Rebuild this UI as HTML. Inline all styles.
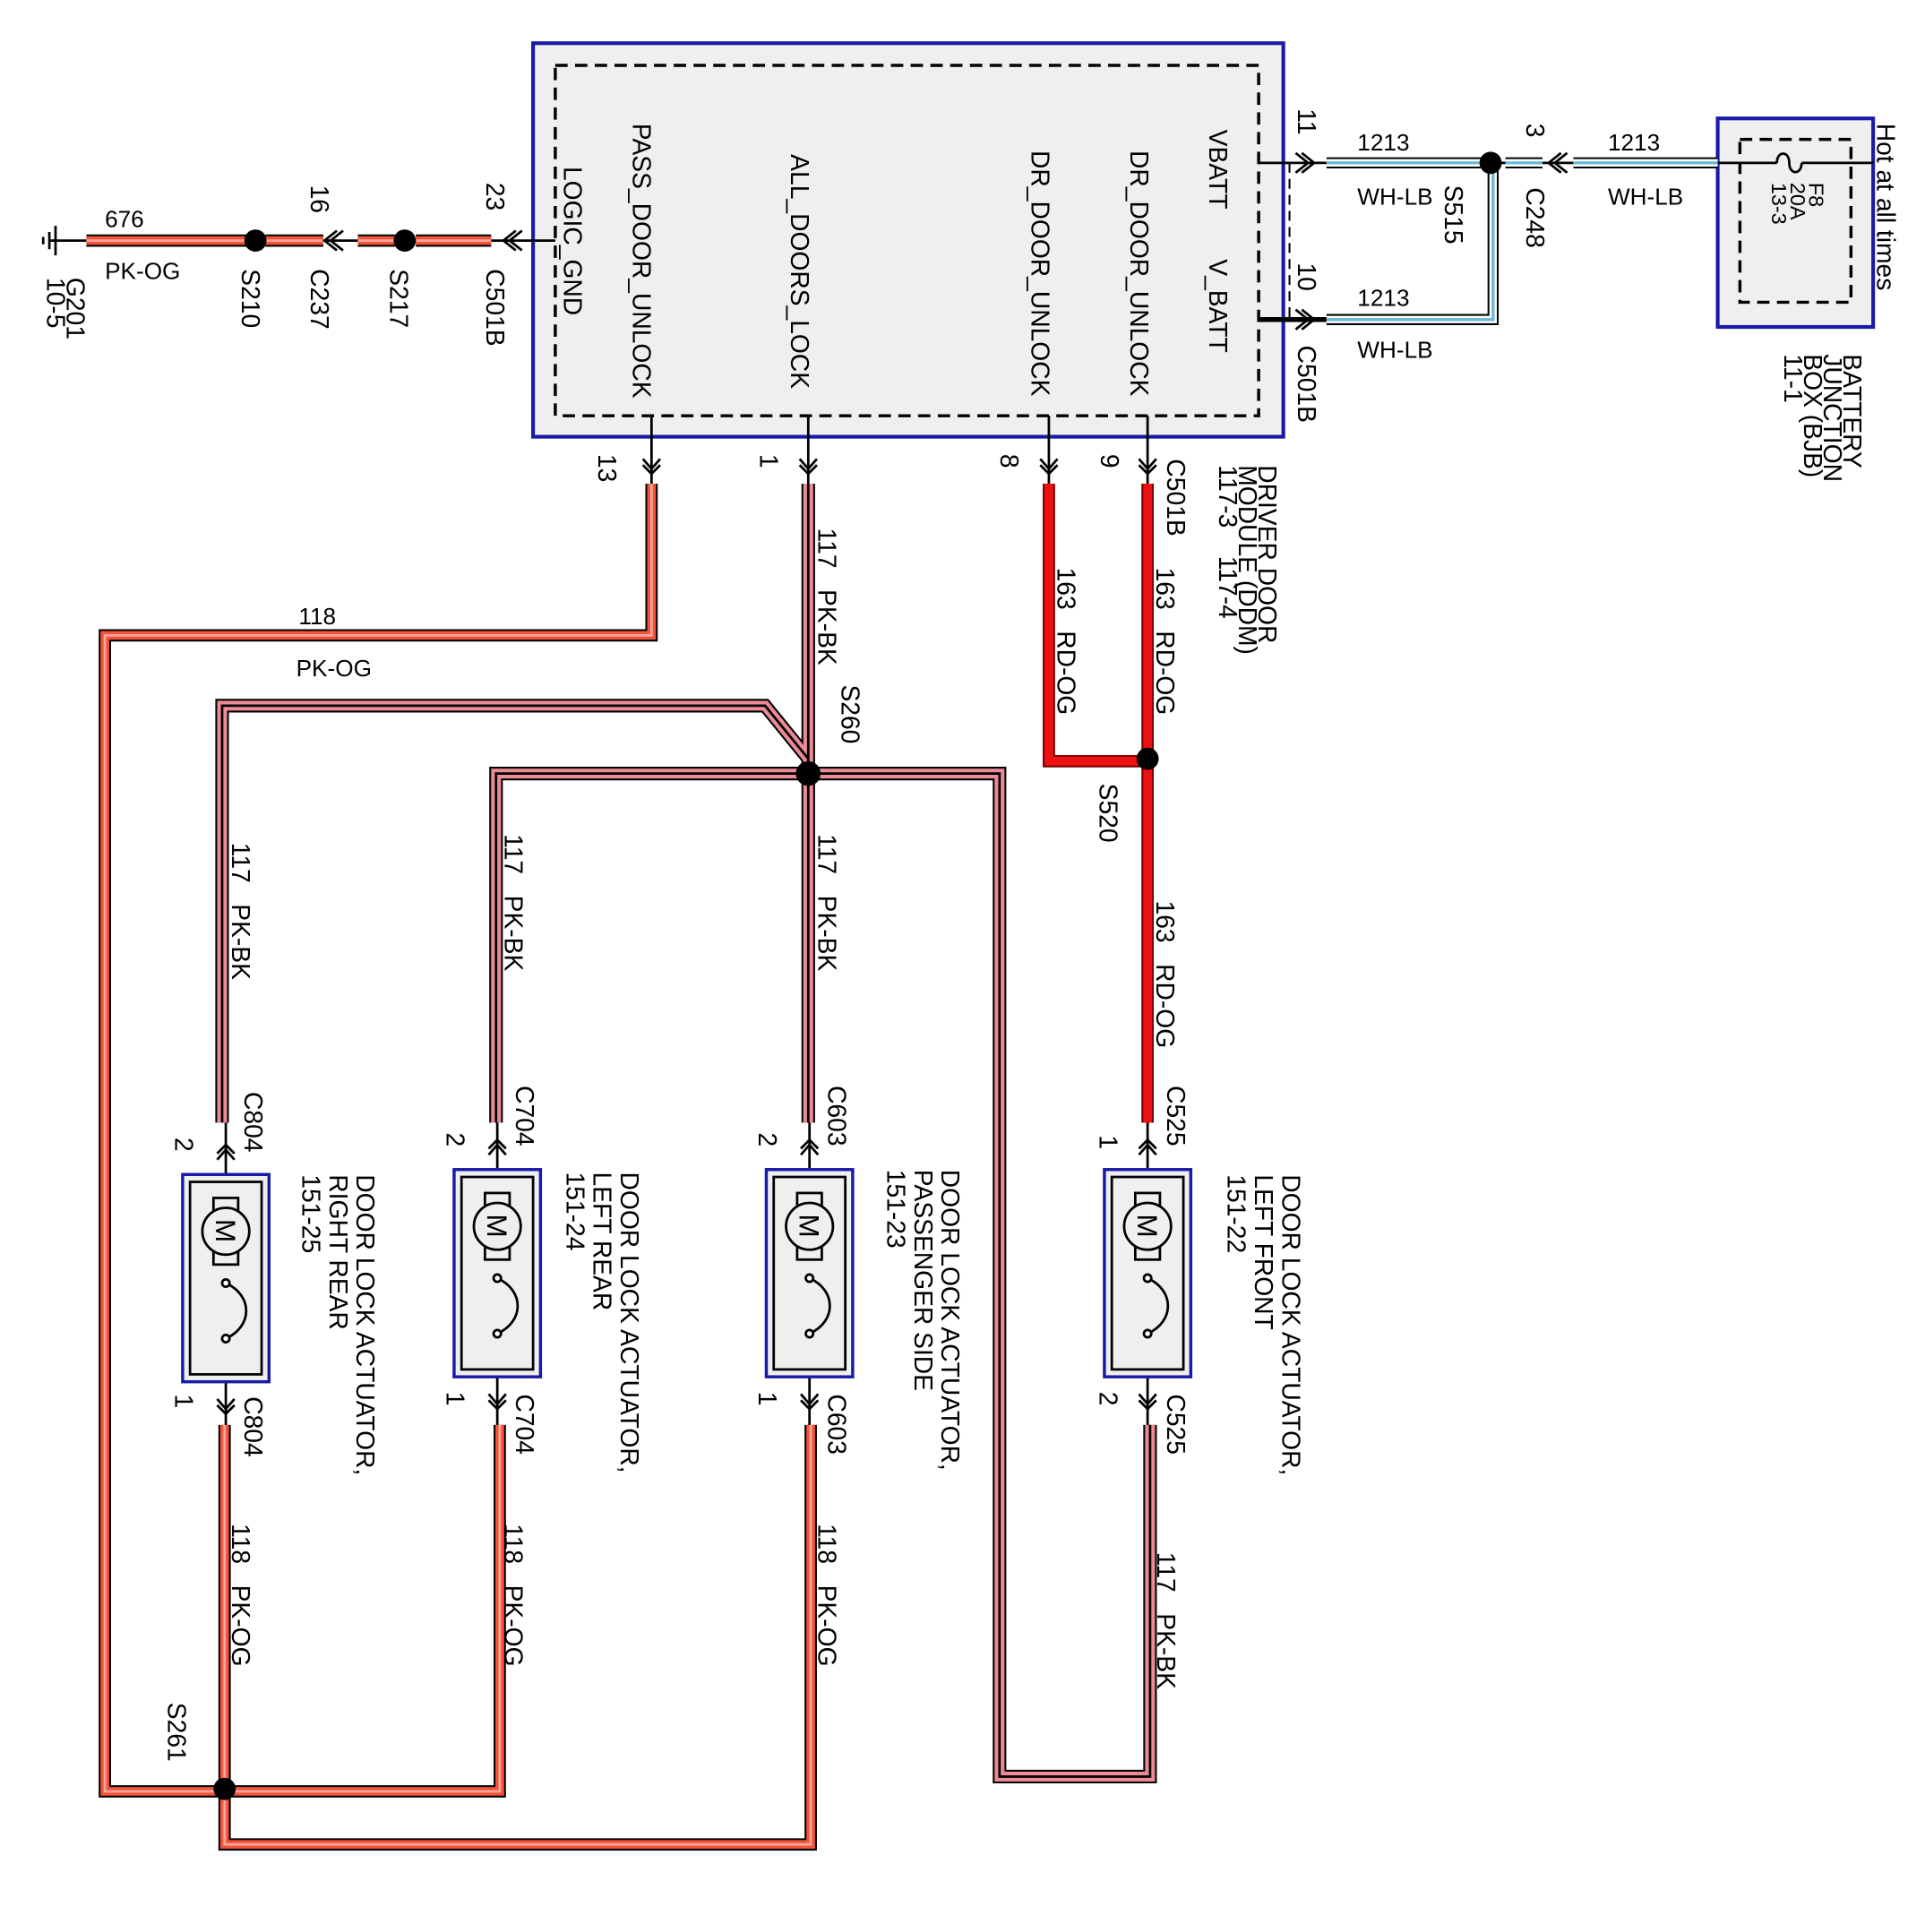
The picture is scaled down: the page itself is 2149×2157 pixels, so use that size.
<!DOCTYPE html>
<html><head><meta charset="utf-8"><style>
html,body{margin:0;padding:0;background:#fff}
svg{display:block}
text{font-family:"Liberation Sans",sans-serif;font-size:19px;fill:#000}
g.r text{font-size:20.5px}
</style></head><body>
<svg width="2149" height="2157" viewBox="0 0 1560 1566" preserveAspectRatio="none" xmlns="http://www.w3.org/2000/svg">
<defs>
<g id="dn"><path d="M-7 -8 L0 0 L7 -8 M-7 -3 L0 4 L7 -3" fill="none" stroke="#000" stroke-width="2"/></g>
<g id="up"><path d="M-7 8 L0 0 L7 8 M-7 3 L0 -4 L7 3" fill="none" stroke="#000" stroke-width="2"/></g>
</defs>
<rect x="432" y="35" width="608" height="319" fill="#efefef" stroke="#1a1aa8" stroke-width="3"/>
<rect x="450" y="53" width="570" height="284" fill="none" stroke="#000" stroke-width="2.5" stroke-dasharray="10,6"/>
<rect x="1392" y="96" width="126" height="169" fill="#efefef" stroke="#1a1aa8" stroke-width="3"/>
<rect x="1410" y="113" width="90" height="132" fill="none" stroke="#000" stroke-width="2.5" stroke-dasharray="10,6"/>
<path d="M1392 132 H1440 M1460 132 H1518" stroke="#000" stroke-width="2"/>
<path d="M1440 132 C1440 122 1450 122 1450 132 C1450 142 1460 142 1460 132" fill="none" stroke="#000" stroke-width="2"/>
<path d="M1045 132 V259" stroke="#000" stroke-width="1.5" stroke-dasharray="8,5"/>

<g stroke="#000" stroke-width="2" fill="none">
<path d="M40 195 H450"/>
<path d="M1020 132 H1075 M1200 132 H1275"/>
<path d="M528 337 V392 M655 337 V392 M850 337 V392 M930 337 V392"/>
</g>
<path d="M1020 259 H1075" stroke="#000" stroke-width="4"/>
<path d="M45 183 V207 M40 188 V202 M35 192 V198" stroke="#000" stroke-width="2"/>

<g fill="none" stroke-linejoin="miter">
<g stroke="#000" stroke-width="10">
<path d="M70 195 H200 M215 195 H262 M290 195 H320 M337 195 H398"/>
<path d="M528 392 V515 H85 V1452 H405 V1155"/>
<path d="M182 1155 V1495 H657 V1155"/>
</g>
<g stroke="#f2543a" stroke-width="7">
<path d="M70 195 H200 M215 195 H262 M290 195 H320 M337 195 H398"/>
<path d="M528 392 V515 H85 V1452 H405 V1155"/>
<path d="M182 1155 V1495 H657 V1155"/>
</g>
<g stroke="#f7a49a" stroke-width="2">
<path d="M70 195 H200 M215 195 H262 M290 195 H320 M337 195 H398"/>
<path d="M528 392 V515 H85 V1452 H405 V1155"/>
<path d="M182 1155 V1495 H657 V1155"/>
</g>
<g stroke="#000" stroke-width="11">
<path d="M655 392 V910"/><path d="M655 615 L620 572 H180 V910"/><path d="M655 627 H402 V910"/><path d="M655 627 H810 V1440 H932 V1155"/>
</g>
<g stroke="#ec8a96" stroke-width="8">
<path d="M655 392 V910"/><path d="M655 615 L620 572 H180 V910"/><path d="M655 627 H402 V910"/><path d="M655 627 H810 V1440 H932 V1155"/>
</g>
<g stroke="#000" stroke-width="2">
<path d="M655 392 V910"/><path d="M655 615 L620 572 H180 V910"/><path d="M655 627 H402 V910"/><path d="M655 627 H810 V1440 H932 V1155"/>
</g>
<g stroke="#7a0000" stroke-width="10"><path d="M850 392 V617 H930"/><path d="M930 392 V910"/></g>
<g stroke="#ee1111" stroke-width="7"><path d="M850 392 V617 H930"/><path d="M930 392 V910"/></g>
<g stroke="#000" stroke-width="9"><path d="M1075 132 H1200 M1220 132 H1250 M1275 132 H1392"/><path d="M1075 259 H1210 V132"/></g>
<g stroke="#fff" stroke-width="6"><path d="M1075 132 H1200 M1220 132 H1250 M1275 132 H1392"/><path d="M1075 259 H1210 V132"/></g>
<g stroke="#6bbad6" stroke-width="2.5"><path d="M1075 132 H1200 M1220 132 H1250 M1275 132 H1392"/><path d="M1075 259 H1210 V132"/></g>
</g>

<g fill="#000">
<circle cx="207" cy="195" r="9"/><circle cx="328" cy="195" r="9"/>
<circle cx="1208" cy="132" r="9"/><circle cx="655" cy="627" r="10"/>
<circle cx="930" cy="615" r="9"/><circle cx="182" cy="1450" r="9"/>
</g>
<g stroke="#000" stroke-width="2" fill="none">
<path d="M278 187 L268 195 L278 203 M273 187 L263 195 L273 203"/>
<path d="M423 187 L413 195 L423 203 M418 187 L408 195 L418 203"/>
<path d="M1050 124 L1060 132 L1050 140 M1055 124 L1065 132 L1055 140"/>
<path d="M1050 251 L1060 259 L1050 267 M1055 251 L1065 259 L1055 267"/>
<path d="M1265 124 L1255 132 L1265 140 M1270 124 L1260 132 L1270 140"/>
</g>
<use href="#dn" x="528" y="380"/><use href="#dn" x="655" y="380"/><use href="#dn" x="850" y="380"/><use href="#dn" x="930" y="380"/>

<g stroke="#000" stroke-width="2" fill="none">
<path d="M183 910 V1155 M403 910 V1155 M656 910 V1155 M930 910 V1155"/>
</g>
<g>
<rect x="148" y="952" width="70" height="168" fill="#efefef" stroke="#1a1aa8" stroke-width="2.5"/>
<rect x="154" y="958" width="58" height="156" fill="none" stroke="#000" stroke-width="2"/>
<rect x="368" y="948" width="70" height="168" fill="#efefef" stroke="#1a1aa8" stroke-width="2.5"/>
<rect x="374" y="954" width="58" height="156" fill="none" stroke="#000" stroke-width="2"/>
<rect x="621" y="948" width="70" height="168" fill="#efefef" stroke="#1a1aa8" stroke-width="2.5"/>
<rect x="627" y="954" width="58" height="156" fill="none" stroke="#000" stroke-width="2"/>
<rect x="895" y="948" width="70" height="168" fill="#efefef" stroke="#1a1aa8" stroke-width="2.5"/>
<rect x="901" y="954" width="58" height="156" fill="none" stroke="#000" stroke-width="2"/>
</g>
<g stroke="#000" stroke-width="2" fill="#efefef">
<rect x="173" y="971" width="20" height="14"/><rect x="173" y="1011" width="20" height="14"/><circle cx="183" cy="998" r="19"/>
<rect x="393" y="967" width="20" height="14"/><rect x="393" y="1007" width="20" height="14"/><circle cx="403" cy="994" r="19"/>
<rect x="646" y="967" width="20" height="14"/><rect x="646" y="1007" width="20" height="14"/><circle cx="656" cy="994" r="19"/>
<rect x="920" y="967" width="20" height="14"/><rect x="920" y="1007" width="20" height="14"/><circle cx="930" cy="994" r="19"/>
</g>
<g stroke="#efefef" stroke-width="4"><path d="M183 1040 V1085 M403 1036 V1081 M656 1036 V1081 M930 1036 V1081"/></g>
<g stroke="#000" stroke-width="2" fill="#fff">
<path d="M183 1040 C205 1050 205 1075 183 1085" fill="none"/><circle cx="183" cy="1040" r="3"/><circle cx="183" cy="1085" r="3"/>
<path d="M403 1036 C425 1046 425 1071 403 1081" fill="none"/><circle cx="403" cy="1036" r="3"/><circle cx="403" cy="1081" r="3"/>
<path d="M656 1036 C678 1046 678 1071 656 1081" fill="none"/><circle cx="656" cy="1036" r="3"/><circle cx="656" cy="1081" r="3"/>
<path d="M930 1036 C952 1046 952 1071 930 1081" fill="none"/><circle cx="930" cy="1036" r="3"/><circle cx="930" cy="1081" r="3"/>
</g>
<text transform="translate(175,988) rotate(90)" style="font-size:23px">M</text>
<text transform="translate(395,984) rotate(90)" style="font-size:23px">M</text>
<text transform="translate(648,984) rotate(90)" style="font-size:23px">M</text>
<text transform="translate(922,984) rotate(90)" style="font-size:23px">M</text>
<use href="#up" x="183" y="932"/><use href="#up" x="403" y="928"/><use href="#up" x="656" y="928"/><use href="#up" x="930" y="928"/>
<use href="#dn" x="183" y="1142"/><use href="#dn" x="403" y="1138"/><use href="#dn" x="656" y="1138"/><use href="#dn" x="930" y="1138"/>

<text x="85" y="184">676</text>
<text x="85" y="226">PK-OG</text>
<text x="1100" y="122">1213</text><text x="1100" y="166">WH-LB</text>
<text x="1303" y="122">1213</text><text x="1303" y="166">WH-LB</text>
<text x="1100" y="248">1213</text><text x="1100" y="290">WH-LB</text>
<text x="242" y="506">118</text><text x="240" y="548">PK-OG</text>

<g class="r">
<text transform="translate(457,135) rotate(90)">LOGIC_GND</text>
<text transform="translate(513,100) rotate(90)">PASS_DOOR_UNLOCK</text>
<text transform="translate(641,125) rotate(90)">ALL_DOORS_LOCK</text>
<text transform="translate(836,122) rotate(90)">DR_DOOR_UNLOCK</text>
<text transform="translate(916,122) rotate(90)">DR_DOOR_UNLOCK</text>
<text transform="translate(980,105) rotate(90)">VBATT</text>
<text transform="translate(980,210) rotate(90)">V_BATT</text>
<text transform="translate(1052,88) rotate(90)">11</text>
<text transform="translate(1052,213) rotate(90)">10</text>
<text transform="translate(1052,280) rotate(90)">C501B</text>
<text transform="translate(1171,150) rotate(90)">S515</text>
<text transform="translate(1237,100) rotate(90)">3</text>
<text transform="translate(1237,152) rotate(90)">C248</text>
<text transform="translate(1466,148) rotate(90)" style="font-size:17px">F8</text>
<text transform="translate(1451,148) rotate(90)" style="font-size:17px">20A</text>
<text transform="translate(1436,148) rotate(90)" style="font-size:17px">13-3</text>
<text transform="translate(1521,100) rotate(90)">Hot at all times</text>
<text transform="translate(1494,287) rotate(90)">BATTERY</text>
<text transform="translate(1478,287) rotate(90)">JUNCTION</text>
<text transform="translate(1462,287) rotate(90)">BOX (BJB)</text>
<text transform="translate(1446,287) rotate(90)">11-1</text>
<text transform="translate(1020,377) rotate(90)">DRIVER DOOR</text>
<text transform="translate(1004,377) rotate(90)">MODULE (DDM)</text>
<text transform="translate(988,377) rotate(90)">117-3&#160;&#160;&#160;&#160;117-4</text>
<text transform="translate(946,372) rotate(90)">C501B</text>
<text transform="translate(892,368) rotate(90)">9</text>
<text transform="translate(811,368) rotate(90)">8</text>
<text transform="translate(616,368) rotate(90)">1</text>
<text transform="translate(485,368) rotate(90)">13</text>
<text transform="translate(54,225) rotate(90)">G201</text>
<text transform="translate(38,225) rotate(90)">10-5</text>
<text transform="translate(196,218) rotate(90)">S210</text>
<text transform="translate(252,150) rotate(90)">16</text>
<text transform="translate(252,218) rotate(90)">C237</text>
<text transform="translate(316,218) rotate(90)">S217</text>
<text transform="translate(394,148) rotate(90)">23</text>
<text transform="translate(394,218) rotate(90)">C501B</text>
<text transform="translate(663,428) rotate(90)">117&#160;&#160;&#160;PK-BK</text>
<text transform="translate(682,555) rotate(90)">S260</text>
<text transform="translate(857,460) rotate(90)">163&#160;&#160;&#160;RD-OG</text>
<text transform="translate(937,460) rotate(90)">163&#160;&#160;&#160;RD-OG</text>
<text transform="translate(891,635) rotate(90)">S520</text>
<text transform="translate(188,683) rotate(90)">117&#160;&#160;&#160;PK-BK</text>
<text transform="translate(409,676) rotate(90)">117&#160;&#160;&#160;PK-BK</text>
<text transform="translate(663,676) rotate(90)">117&#160;&#160;&#160;PK-BK</text>
<text transform="translate(937,730) rotate(90)">163&#160;&#160;&#160;RD-OG</text>
<text transform="translate(198,885) rotate(90)">C804</text><text transform="translate(142,922) rotate(90)">2</text>
<text transform="translate(418,880) rotate(90)">C704</text><text transform="translate(362,918) rotate(90)">2</text>
<text transform="translate(671,880) rotate(90)">C603</text><text transform="translate(615,918) rotate(90)">2</text>
<text transform="translate(946,880) rotate(90)">C525</text><text transform="translate(891,920) rotate(90)">1</text>
<text transform="translate(198,1132) rotate(90)">C804</text><text transform="translate(142,1130) rotate(90)">1</text>
<text transform="translate(418,1130) rotate(90)">C704</text><text transform="translate(362,1128) rotate(90)">1</text>
<text transform="translate(671,1130) rotate(90)">C603</text><text transform="translate(615,1128) rotate(90)">1</text>
<text transform="translate(946,1130) rotate(90)">C525</text><text transform="translate(891,1128) rotate(90)">2</text>
<text transform="translate(289,952) rotate(90)">DOOR LOCK ACTUATOR,</text>
<text transform="translate(267,952) rotate(90)">RIGHT REAR</text>
<text transform="translate(245,952) rotate(90)">151-25</text>
<text transform="translate(503,950) rotate(90)">DOOR LOCK ACTUATOR,</text>
<text transform="translate(481,950) rotate(90)">LEFT REAR</text>
<text transform="translate(459,950) rotate(90)">151-24</text>
<text transform="translate(763,948) rotate(90)">DOOR LOCK ACTUATOR,</text>
<text transform="translate(741,948) rotate(90)">PASSENGER SIDE</text>
<text transform="translate(719,948) rotate(90)">151-23</text>
<text transform="translate(1039,952) rotate(90)">DOOR LOCK ACTUATOR,</text>
<text transform="translate(1017,952) rotate(90)">LEFT FRONT</text>
<text transform="translate(995,952) rotate(90)">151-22</text>
<text transform="translate(188,1235) rotate(90)">118&#160;&#160;&#160;PK-OG</text>
<text transform="translate(409,1235) rotate(90)">118&#160;&#160;&#160;PK-OG</text>
<text transform="translate(663,1235) rotate(90)">118&#160;&#160;&#160;PK-OG</text>
<text transform="translate(938,1258) rotate(90)">117&#160;&#160;&#160;PK-BK</text>
<text transform="translate(136,1380) rotate(90)">S261</text>
</g>
</svg>
</body></html>
